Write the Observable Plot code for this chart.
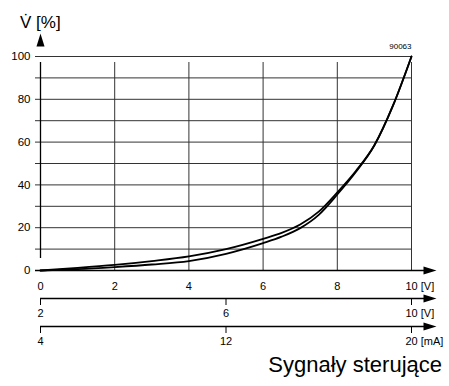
<!DOCTYPE html>
<html>
<head>
<meta charset="utf-8">
<script src="https://cdn.jsdelivr.net/npm/d3@7"></script>
<script src="https://cdn.jsdelivr.net/npm/@observablehq/plot@0.6"></script>
<style>
  html, body { margin: 0; padding: 0; background: white; }
  #wrap { position: relative; width: 449px; height: 386px; overflow: hidden; font-family: "Liberation Sans", Arial, sans-serif; }
  #wrap svg { position: absolute; left: 0; }
  .ylab { position: absolute; left: 20px; top: 14px; font-size: 17px; line-height: 17px; color: #000; }
  .cap { position: absolute; right: 7px; top: 354px; font-size: 22px; line-height: 22px; color: #000; }
</style>
</head>
<body>
<div id="wrap">
  <div class="ylab">V&#x307; [%]</div>
  <div class="cap">Sygnały sterujące</div>
</div>
<script>
// ---- data ----
const voltage   = [0, 1, 2, 3, 4, 5, 6, 6.5, 7, 7.5, 8, 8.5, 9, 9.5, 10];
const flowUpper = [0, 1.2, 2.6, 4.4, 6.6, 10, 14.8, 17.6, 21.5, 27.5, 36.5, 46.5, 58.5, 77, 100];
const flowLower = [0, 0.6, 1.6, 2.8, 4.4, 7.8, 12.8, 15.8, 19.8, 26, 35.5, 46, 58.5, 77, 100];

const yTicks = [0, 20, 40, 60, 80, 100];
const yGrid = [0, 10, 20, 30, 40, 50, 60, 70, 80, 90, 100];
const xTicks = [0, 2, 4, 6, 8, 10];
const xTickLabels = ["0", "2", "4", "6", "8", "10 [V]"];
const v2Ticks = [2, 6, 10];
const v2TickLabels = ["2", "6", "10 [V]"];
const mATicks = [4, 12, 20];
const mATickLabels = ["4", "12", "20 [mA]"];
const figId = "90063";

// ---- helpers ----
const arrowHead = {
  draw(context) {
    context.moveTo(0, -13);
    context.lineTo(4, 0);
    context.lineTo(-4, 0);
    context.closePath();
  }
};
const font = {fontFamily: "'Liberation Sans', Arial, sans-serif", fontSize: "11px", background: "transparent", overflow: "visible"};
const wrap = document.getElementById("wrap");

const upper = voltage.map((v, i) => ({v, p: flowUpper[i]}));
const lower = voltage.map((v, i) => ({v, p: flowLower[i]}));
const gridX = xTicks.filter(d => d !== 0);

// ---- main chart ----
const main = Plot.plot({
  width: 449,
  height: 295,
  marginLeft: 40,
  marginRight: 38,
  marginTop: 56,
  marginBottom: 25,
  style: font,
  x: {domain: [0, 10], axis: null},
  y: {domain: [0, 100], axis: null},
  marks: [
    Plot.ruleY(yGrid, {x1: 0, x2: 10, insetLeft: -5, stroke: "#333", strokeWidth: 1}),
    Plot.ruleX(gridX, {y1: 0, y2: 100, insetBottom: -6, stroke: "#333", strokeWidth: 1}),
    // axes
    Plot.ruleX([0], {y1: 0, y2: 100, insetTop: -12, insetBottom: -6, stroke: "#000", strokeWidth: 1.3}),
    Plot.ruleY([0], {x1: 0, x2: 10, insetLeft: -5, insetRight: -13, stroke: "#000", strokeWidth: 1.3}),
    Plot.dot([0], {x: 0, y: 100, dy: -10, symbol: arrowHead, fill: "#000", stroke: "none"}),
    Plot.dot([0], {x: 10, y: 0, dx: 12, rotate: 90, symbol: arrowHead, fill: "#000", stroke: "none"}),
    // tick labels
    Plot.text(yTicks, {x: 0, y: d => d, text: d => String(d), textAnchor: "end", dx: -10, fontSize: 11.5, fill: "#000"}),
    Plot.text(xTicks.slice(0, -1), {x: d => d, y: 0, text: (d, i) => xTickLabels[i], dy: 16, fontSize: 11, fill: "#000"}),
    Plot.text(xTicks.slice(-1), {x: d => d, y: 0, text: () => xTickLabels[xTickLabels.length - 1], textAnchor: "start", dx: -6, dy: 16, fontSize: 11, fill: "#000"}),
    Plot.text([figId], {x: 10, y: 100, text: d => d, textAnchor: "end", dy: -10, fontSize: 8, fill: "#000"}),
    // curves
    Plot.line(upper, {x: "v", y: "p", curve: "monotone-x", stroke: "#000", strokeWidth: 1.8}),
    Plot.line(lower, {x: "v", y: "p", curve: "monotone-x", stroke: "#000", strokeWidth: 1.8})
  ]
});
main.style.top = "0px";
wrap.appendChild(main);

// ---- secondary signal axes ----
function signalAxis(ticks, labels, top) {
  const lo = ticks[0], hi = ticks[ticks.length - 1];
  const svg = Plot.plot({
    width: 449,
    height: 40,
    marginLeft: 40,
    marginRight: 38,
    marginTop: 0,
    marginBottom: 22,
    style: font,
    x: {domain: [lo, hi], axis: null},
    y: {domain: [0, 1], axis: null},
    marks: [
      Plot.ruleY([0], {x1: lo, x2: hi, insetRight: -13, stroke: "#000", strokeWidth: 1.3}),
      Plot.ruleX(ticks, {y1: 0, y2: 0, insetBottom: -7, stroke: "#000", strokeWidth: 1}),
      Plot.dot([0], {x: hi, y: 0, dx: 12, rotate: 90, symbol: arrowHead, fill: "#000", stroke: "none"}),
      Plot.text(ticks.slice(0, -1), {x: d => d, y: 0, text: (d, i) => labels[i], dy: 15, fontSize: 11, fill: "#000"}),
      Plot.text(ticks.slice(-1), {x: d => d, y: 0, text: () => labels[labels.length - 1], textAnchor: "start", dx: -6, dy: 15, fontSize: 11, fill: "#000"})
    ]
  });
  svg.style.top = top + "px";
  wrap.appendChild(svg);
}
signalAxis(v2Ticks, v2TickLabels, 280);
signalAxis(mATicks, mATickLabels, 308);
</script>
</body>
</html>
